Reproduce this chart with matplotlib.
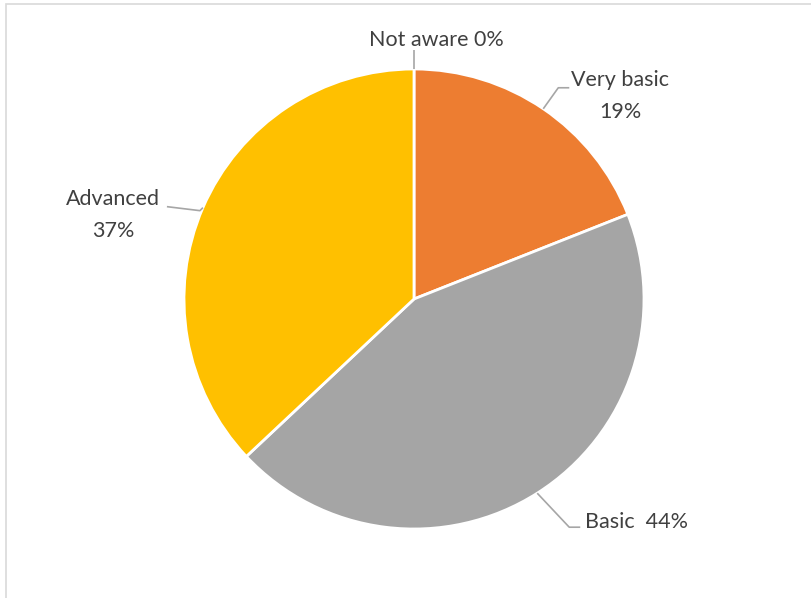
import numpy as np
import matplotlib.pyplot as plt
from matplotlib.patches import Rectangle

# Данные
categories = ['Not aware', 'Very basic', 'Basic', 'Advanced']
values = [0, 19, 44, 37]
colors = ['#4472C4', '#ED7D31', '#A5A5A5', '#FFC000']

plt.rcParams['font.family'] = ['Lato', 'DejaVu Sans']

W, H = 812, 598
fig = plt.figure(figsize=(W / 100, H / 100), dpi=100)

# Рамка области диаграммы
fig.patches.append(Rectangle((6 / W, -0.1), 1.2, (H - 4.5) / H + 0.1,
                             transform=fig.transFigure, fill=False,
                             edgecolor='#D9D9D9', linewidth=1.2))

# Круг: центр (414, 299), радиус 230 пикселей
cx, cy, r = 414, 299, 230
ax = fig.add_axes([(cx - r) / W, (H - cy - r) / H, 2 * r / W, 2 * r / H])
wedges, _ = ax.pie(values, colors=colors, startangle=90, counterclock=False,
                   radius=1, wedgeprops=dict(edgecolor='white', linewidth=2))
ax.set_xlim(-1, 1)
ax.set_ylim(-1, 1)
ax.set_aspect('equal')
ax.axis('off')

# Подписи с выносными линиями (смещения в пикселях относительно края сектора)
label_text = [
    f'{categories[0]} {values[0]}%',
    f'{categories[1]}\n{values[1]}%',
    f'{categories[2]}  {values[2]}%',
    f'{categories[3]}\n{values[3]}%',
]
# (излом, конец линии, позиция текста, выравнивание)
layout = [
    ((0, -1), (0, -19), (22, -29), 'center'),
    ((15, -21), (26, -21), (77, -13), 'center'),
    ((32, 34), (43, 34), (48, 29), 'left'),
    ((-3, 3), (-36, -1), (-90, 7.5), 'center'),
]
lead_color = '#A6A6A6'
for w, txt, (p1, p2, pt, ha) in zip(wedges, label_text, layout):
    ang = np.deg2rad((w.theta1 + w.theta2) / 2)
    ex, ey = np.cos(ang), np.sin(ang)
    pts = [(ex, ey)] + [(ex + dx / r, ey - dy / r) for dx, dy in (p1, p2)]
    xs, ys = zip(*pts)
    ax.plot(xs, ys, color=lead_color, linewidth=1.2, clip_on=False,
            solid_capstyle='butt')
    ax.text(ex + pt[0] / r, ey - pt[1] / r, txt, ha=ha, va='center',
            fontsize=15.5, color='#404040', linespacing=1.75)

fig.savefig('out.png', dpi=100)
